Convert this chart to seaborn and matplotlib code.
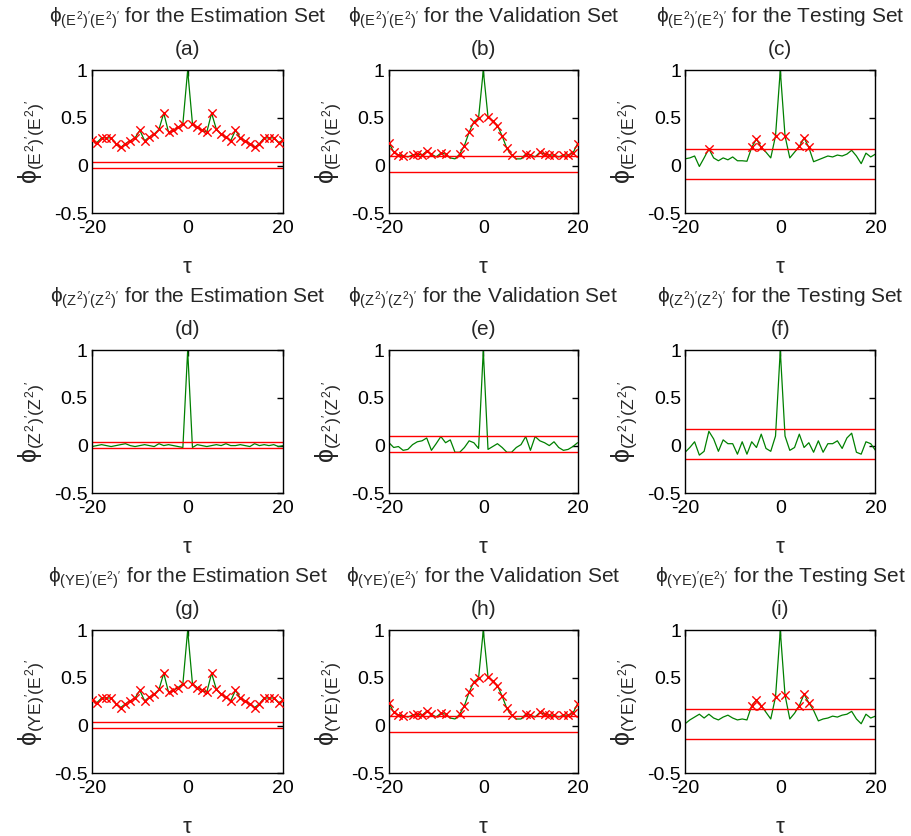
import numpy as np
import pandas as pd
import seaborn as sns
import matplotlib.pyplot as plt

# lags -20 .. 20
lags = list(range(-20, 21))

# row 1: (E^2)'(E^2)'
acf_a = [0.27, 0.24, 0.29, 0.29, 0.29, 0.23, 0.19, 0.23, 0.26, 0.29, 0.37, 0.26, 0.30, 0.33, 0.38, 0.55, 0.35, 0.37, 0.40, 0.44,
         1.0,
         0.44, 0.40, 0.37, 0.35, 0.55, 0.38, 0.33, 0.30, 0.26, 0.37, 0.29, 0.26, 0.23, 0.19, 0.23, 0.29, 0.29, 0.29, 0.24, 0.27]
acf_b = [0.24, 0.14, 0.11, 0.105, 0.09, 0.11, 0.12, 0.11, 0.15, 0.12, 0.09, 0.13, 0.12, 0.08, 0.07, 0.12, 0.21, 0.35, 0.46, 0.50,
         1.0,
         0.51, 0.47, 0.42, 0.31, 0.18, 0.11, 0.07, 0.07, 0.12, 0.11, 0.09, 0.14, 0.12, 0.11, 0.11, 0.09, 0.11, 0.11, 0.13, 0.23]
acf_c = [0.07, 0.08, 0.10, -0.01, 0.08, 0.175, 0.08, 0.05, 0.08, 0.06, 0.09, 0.05, 0.05, 0.045, 0.19, 0.28, 0.19, 0.14, 0.08, 0.31,
         1.0,
         0.31, 0.08, 0.14, 0.20, 0.29, 0.19, 0.04, 0.06, 0.08, 0.10, 0.09, 0.11, 0.10, 0.12, 0.16, 0.10, 0.02, 0.13, 0.09, 0.12]

# row 2: (Z^2)'(Z^2)'
acf_d = [-0.01, 0.0, 0.01, 0.0, -0.01, 0.0, 0.01, 0.02, 0.0, -0.01, 0.0, 0.01, 0.0, -0.01, 0.02, 0.0, 0.01, 0.0, -0.01, -0.02,
         1.0,
         -0.02, 0.01, 0.0, -0.01, 0.0, 0.01, 0.0, 0.02, 0.0, 0.0, 0.01, 0.0, -0.01, 0.02, 0.0, 0.01, 0.0, 0.01, -0.01, 0.0]
acf_e = [0.03, -0.02, -0.01, -0.05, -0.04, 0.01, 0.04, 0.05, 0.08, -0.05, 0.02, 0.095, 0.03, 0.06, -0.07, -0.07, -0.02, 0.05, 0.03, -0.03,
         1.0,
         -0.04, -0.01, 0.02, -0.02, -0.07, -0.07, -0.02, 0.01, 0.095, -0.05, 0.095, 0.05, 0.03, 0.0, 0.04, -0.02, -0.05, -0.04, -0.01, 0.03]
acf_f = [-0.07, -0.02, 0.04, -0.10, -0.06, 0.15, 0.07, -0.06, 0.06, 0.02, 0.02, -0.09, 0.04, -0.09, 0.04, -0.02, 0.12, -0.03, -0.06, 0.10,
         1.0,
         0.10, -0.05, -0.02, 0.12, -0.02, 0.03, -0.07, 0.05, -0.07, 0.02, 0.02, 0.05, -0.03, 0.08, 0.13, -0.07, -0.09, 0.04, 0.02, -0.05]

# row 3: (YE)'(E^2)'
acf_g = list(acf_a)
acf_h = list(acf_b)
acf_i = [0.02, 0.06, 0.09, 0.12, 0.08, 0.12, 0.08, 0.06, 0.09, 0.11, 0.08, 0.06, 0.07, 0.06, 0.21, 0.27, 0.21, 0.14, 0.07, 0.30,
         1.0,
         0.32, 0.07, 0.13, 0.21, 0.33, 0.24, 0.16, 0.05, 0.07, 0.08, 0.10, 0.09, 0.11, 0.12, 0.15, 0.07, 0.02, 0.12, 0.08, 0.10]

# confidence bounds per column (estimation, validation, testing)
upper_bounds = [0.04, 0.10, 0.17]
lower_bounds = [-0.025, -0.07, -0.14]

set_names = ["Estimation", "Validation", "Testing"]
row_symbols = [r"(E^2)'(E^2)'", r"(Z^2)'(Z^2)'", r"(YE)'(E^2)'"]
panel_letters = ["a", "b", "c", "d", "e", "f", "g", "h", "i"]
panel_data = [acf_a, acf_b, acf_c, acf_d, acf_e, acf_f, acf_g, acf_h, acf_i]

sns.set_theme(style="white")
plt.rcParams['font.family'] = ['Liberation Sans', 'DejaVu Sans']
plt.rcParams['mathtext.fontset'] = 'custom'
plt.rcParams['mathtext.rm'] = 'Liberation Sans'
plt.rcParams['mathtext.it'] = 'Liberation Sans'

fig = plt.figure(figsize=(9.11, 8.36), dpi=100)

col_left = [0.101, 0.427, 0.752]
col_w = [0.210, 0.207, 0.209]
row_bottom = [0.745, 0.410, 0.075]
ax_h = 0.171

for k in range(9):
    r, c = divmod(k, 3)
    ax = fig.add_axes([col_left[c], row_bottom[r], col_w[c], ax_h])
    df = pd.DataFrame({'lag': lags, 'acf': panel_data[k]})
    up, lo = upper_bounds[c], lower_bounds[c]

    sns.lineplot(data=df, x='lag', y='acf', ax=ax, color='#008000', linewidth=0.9)
    ax.axhline(up, color='red', linewidth=1.0)
    ax.axhline(lo, color='red', linewidth=1.0)
    out = df[(df['lag'] != 0) & ((df['acf'] > up) | (df['acf'] < lo))]
    sns.scatterplot(data=out, x='lag', y='acf', ax=ax, marker='x', color='red',
                    s=36, linewidth=1.0, zorder=3)

    ax.set_xlim(-20, 20)
    ax.set_ylim(-0.5, 1)
    ax.set_xticks([-20, 0, 20])
    ax.set_yticks([-0.5, 0, 0.5, 1])
    ax.set_yticklabels(['-0.5', '0', '0.5', '1'])
    ax.set_xticklabels(['-20', '0', '20'])
    ax.tick_params(direction='in', length=4, width=1, top=True, right=True,
                   labelsize=14, colors='black')
    ax.tick_params(axis='x', pad=5)
    ax.tick_params(axis='y', pad=3)
    for sp in ax.spines.values():
        sp.set_color('black')
        sp.set_linewidth(1.0)

    sym = row_symbols[r]
    ax.set_xlabel(r"$\tau$", fontsize=16, labelpad=14)
    ax.set_ylabel(r"$\phi_{" + sym + "}$", fontsize=18, labelpad=6)
    ax.set_title("(" + panel_letters[k] + ")", fontsize=15, pad=11)
    ax.text(0.5, 1.365, r"$\phi_{" + sym + "}$" + " for the " + set_names[c] + " Set",
            transform=ax.transAxes, ha='center', va='center', fontsize=15)

fig.savefig('out.png', dpi=100, facecolor='white')
